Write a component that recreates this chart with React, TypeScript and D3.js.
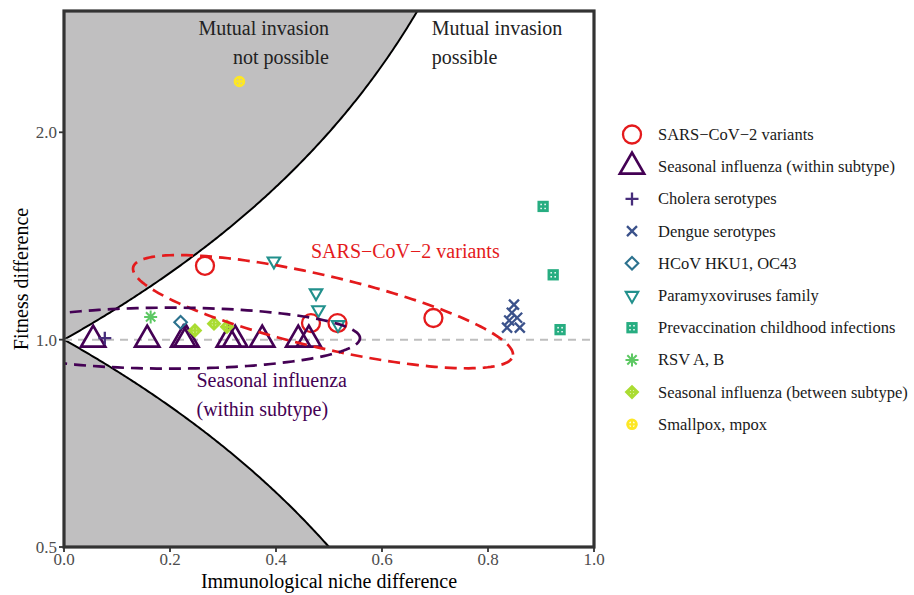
import React from "react";
import * as d3 from "d3";

const WIDTH = 914;
const HEIGHT = 595;
const PANEL = { left: 64, right: 594, top: 11, bottom: 547 };
const FONT = "'Liberation Serif', 'Times New Roman', serif";

// axis ticks
const xTicks = [0, 0.2, 0.4, 0.6, 0.8, 1.0];
const yTicks = [0.5, 1.0, 2.0];

// series: immunological niche difference (x) and fitness difference (y)
const sarsX = [0.266, 0.466, 0.516, 0.697];
const sarsY = [1.28, 1.057, 1.057, 1.075];

const fluWithinX = [0.055, 0.157, 0.225, 0.231, 0.311, 0.323, 0.374, 0.442, 0.462];
const fluWithinY = [1.0, 1.0, 1.0, 1.0, 1.0, 1.0, 1.0, 1.0, 1.0];

const choleraX = [0.077];
const choleraY = [1.005];

const dengueX = [0.849, 0.845, 0.855, 0.84, 0.836, 0.86];
const dengueY = [1.124, 1.094, 1.076, 1.066, 1.041, 1.041];

const hcovX = [0.22];
const hcovY = [1.06];

const paramyxoX = [0.396, 0.4755, 0.48, 0.517];
const paramyxoY = [1.3, 1.169, 1.105, 1.051];

const prevacX = [0.904, 0.923, 0.936];
const prevacY = [1.561, 1.242, 1.034];

const rsvX = [0.1635];
const rsvY = [1.079];

const fluBetweenX = [0.247, 0.283, 0.3075];
const fluBetweenY = [1.031, 1.055, 1.044];

const smallpoxX = [0.331];
const smallpoxY = [2.37];

const seriesNames = [
  "SARS\u2212CoV\u22122 variants",
  "Seasonal influenza (within subtype)",
  "Cholera serotypes",
  "Dengue serotypes",
  "HCoV HKU1, OC43",
  "Paramyxoviruses family",
  "Prevaccination childhood infections",
  "RSV A, B",
  "Seasonal influenza (between subtype)",
  "Smallpox, mpox",
];
const seriesShapes = [
  "circle",
  "triangleBig",
  "plus",
  "cross",
  "diamond",
  "triangleDown",
  "squarePlus",
  "asterisk",
  "diamondPlus",
  "circlePlus",
];
const seriesColors = [
  "#E41A1C",
  "#440154",
  "#472D7B",
  "#3B528B",
  "#2C728E",
  "#21908C",
  "#27AD81",
  "#5DC863",
  "#AADC32",
  "#FDE725",
];
const seriesXs = [sarsX, fluWithinX, choleraX, dengueX, hcovX, paramyxoX, prevacX, rsvX, fluBetweenX, smallpoxX];
const seriesYs = [sarsY, fluWithinY, choleraY, dengueY, hcovY, paramyxoY, prevacY, rsvY, fluBetweenY, smallpoxY];

// confidence ellipses: centre plus two conjugate semi-diameters in (niche, log2 fitness) units
const sarsEllipse = { cx: 0.4887, cy: 1.098, ax: 0.3585, aLog: -0.2067, bx: 0, bLog: 0.1783 };
const fluEllipse = { cx: 0.2, cy: 1.005, ax: 0.3585, aLog: 0, bx: 0, bLog: 0.147 };

const x = d3.scaleLinear().domain([0, 1]).range([PANEL.left, PANEL.right]);
const y = d3.scaleLog().domain([0.5, 3]).range([PANEL.bottom, PANEL.top]);

type Pt = [number, number];

function ellipsePath(e: typeof sarsEllipse): string {
  const pts: Pt[] = d3.range(0, 2 * Math.PI, Math.PI / 90).map((t) => {
    const nx = e.cx + e.ax * Math.cos(t) + e.bx * Math.sin(t);
    const ly = Math.log2(e.cy) + e.aLog * Math.cos(t) + e.bLog * Math.sin(t);
    return [x(nx), y(Math.pow(2, ly))];
  });
  return d3.line().curve(d3.curveLinearClosed)(pts) || "";
}

function Marker({ shape, color, cx, cy }: { shape: string; color: string; cx: number; cy: number }) {
  switch (shape) {
    case "circle":
      return <circle cx={cx} cy={cy} r={9} fill="none" stroke={color} strokeWidth={2.3} />;
    case "triangleBig": {
      const r = 14;
      const h = r * 0.866;
      return (
        <path
          d={`M${cx},${cy - r}L${cx + h},${cy + r / 2}L${cx - h},${cy + r / 2}Z`}
          fill="none"
          stroke={color}
          strokeWidth={2.7}
          strokeLinejoin="miter"
        />
      );
    }
    case "plus": {
      const s = 6.5;
      return (
        <path d={`M${cx - s},${cy}H${cx + s}M${cx},${cy - s}V${cy + s}`} stroke={color} strokeWidth={2.3} />
      );
    }
    case "cross": {
      const s = 5;
      return (
        <path
          d={`M${cx - s},${cy - s}L${cx + s},${cy + s}M${cx - s},${cy + s}L${cx + s},${cy - s}`}
          stroke={color}
          strokeWidth={2.3}
        />
      );
    }
    case "diamond": {
      const s = 6.3;
      return (
        <path
          d={`M${cx},${cy - s}L${cx + s},${cy}L${cx},${cy + s}L${cx - s},${cy}Z`}
          fill="none"
          stroke={color}
          strokeWidth={2.1}
        />
      );
    }
    case "triangleDown": {
      const r = 7.2;
      const h = r * 0.866;
      return (
        <path
          d={`M${cx},${cy + r}L${cx + h},${cy - r / 2}L${cx - h},${cy - r / 2}Z`}
          fill="none"
          stroke={color}
          strokeWidth={2.1}
        />
      );
    }
    case "squarePlus": {
      const s = 4.2;
      return (
        <g stroke={color} strokeWidth={2.9} fill="none">
          <rect x={cx - s} y={cy - s} width={2 * s} height={2 * s} />
          <path d={`M${cx - s},${cy}H${cx + s}M${cx},${cy - s}V${cy + s}`} strokeWidth={2.5} />
        </g>
      );
    }
    case "asterisk": {
      const s = 6.5;
      const d = s * 0.72;
      return (
        <path
          d={`M${cx - s},${cy}H${cx + s}M${cx},${cy - s}V${cy + s}M${cx - d},${cy - d}L${cx + d},${cy + d}M${cx - d},${cy + d}L${cx + d},${cy - d}`}
          stroke={color}
          strokeWidth={2}
        />
      );
    }
    case "diamondPlus": {
      const s = 5.4;
      return (
        <g stroke={color} strokeWidth={2.9} fill="none">
          <path d={`M${cx},${cy - s}L${cx + s},${cy}L${cx},${cy + s}L${cx - s},${cy}Z`} />
          <path d={`M${cx - s},${cy}H${cx + s}M${cx},${cy - s}V${cy + s}`} strokeWidth={2.3} />
        </g>
      );
    }
    case "circlePlus": {
      const r = 4.4;
      return (
        <g stroke={color} strokeWidth={2.8} fill="none">
          <circle cx={cx} cy={cy} r={r} />
          <path d={`M${cx - r},${cy}H${cx + r}M${cx},${cy - r}V${cy + r}`} strokeWidth={2.3} />
        </g>
      );
    }
    default:
      return null;
  }
}

export default function App() {
  const upperCurve: Pt[] = d3.range(0, 2 / 3 + 1e-9, 1 / 300).map((v) => [x(v), y(Math.min(3, 1 / (1 - v)))]);
  const lowerCurve: Pt[] = d3.range(0, 0.5 + 1e-9, 1 / 300).map((v) => [x(v), y(1 - v)]);
  const line = d3.line();

  const grayTop = line([...upperCurve, [x(0), y(3)]]) + "Z";
  const grayBottom = line([...lowerCurve, [x(0), y(0.5)]]) + "Z";

  const legendTop = 134.5;
  const legendStep = 32.2;

  return (
    <svg
      width={WIDTH}
      height={HEIGHT}
      style={{ position: "absolute", left: 0, top: 0, background: "#fff" }}
      fontFamily={FONT}
    >
      <defs>
        <clipPath id="panel-clip">
          <rect x={PANEL.left} y={PANEL.top} width={PANEL.right - PANEL.left} height={PANEL.bottom - PANEL.top} />
        </clipPath>
      </defs>

      {/* invasion regions */}
      <path d={grayTop} fill="#C0BFC0" />
      <path d={grayBottom} fill="#C0BFC0" />
      <path d={line(upperCurve) || ""} fill="none" stroke="#000" strokeWidth={2} />
      <path d={line(lowerCurve) || ""} fill="none" stroke="#000" strokeWidth={2} />

      {/* equal fitness reference */}
      <line
        x1={x(0)}
        x2={x(1)}
        y1={y(1)}
        y2={y(1)}
        stroke="#BEBEBE"
        strokeWidth={2}
        strokeDasharray="8 6"
      />

      {/* annotations */}
      <g fontSize={20} fill="#222">
        <text x={x(0.5)} y={y(2.767)} textAnchor="end">Mutual invasion</text>
        <text x={x(0.5)} y={y(2.767) + 28.7} textAnchor="end">not possible</text>
        <text x={x(0.694)} y={y(2.767)}>Mutual invasion</text>
        <text x={x(0.694)} y={y(2.767) + 28.7}>possible</text>
      </g>

      {/* points */}
      <g>
        {seriesXs.map((xs, i) =>
          xs.map((v, j) => (
            <Marker key={`${i}-${j}`} shape={seriesShapes[i]} color={seriesColors[i]} cx={x(v)} cy={y(seriesYs[i][j])} />
          ))
        )}
      </g>

      {/* ellipses */}
      <g clipPath="url(#panel-clip)" fill="none" strokeWidth={2.7}>
        <path d={ellipsePath(sarsEllipse)} stroke="#E41A1C" strokeDasharray="12 7" />
        <path d={ellipsePath(fluEllipse)} stroke="#440154" strokeDasharray="12 7" />
      </g>

      <g fontSize={20}>
        <text x={x(0.466)} y={y(1.315)} fill="#E41A1C">SARS{"\u2212"}CoV{"\u2212"}2 variants</text>
        <text x={x(0.25)} y={y(0.855)} fill="#440154">Seasonal influenza</text>
        <text x={x(0.25)} y={y(0.855) + 29} fill="#440154">(within subtype)</text>
      </g>

      {/* frame */}
      <rect
        x={PANEL.left}
        y={PANEL.top}
        width={PANEL.right - PANEL.left}
        height={PANEL.bottom - PANEL.top}
        fill="none"
        stroke="#333"
        strokeWidth={3.2}
      />

      {/* x axis */}
      <g>
        {xTicks.map((t) => (
          <g key={t}>
            <line x1={x(t)} x2={x(t)} y1={PANEL.bottom} y2={PANEL.bottom + 5} stroke="#333" strokeWidth={1.8} />
            <text x={x(t)} y={565} textAnchor="middle" fontSize={17} fill="#4D4D4D">
              {d3.format(".1f")(t)}
            </text>
          </g>
        ))}
        <text x={(PANEL.left + PANEL.right) / 2} y={588} textAnchor="middle" fontSize={20} fill="#000">
          Immunological niche difference
        </text>
      </g>

      {/* y axis */}
      <g>
        {yTicks.map((t) => (
          <g key={t}>
            <line x1={PANEL.left - 5} x2={PANEL.left} y1={y(t)} y2={y(t)} stroke="#333" strokeWidth={1.8} />
            <text x={57} y={y(t) + 6} textAnchor="end" fontSize={17} fill="#4D4D4D">
              {d3.format(".1f")(t)}
            </text>
          </g>
        ))}
        <text
          transform={`translate(28,${(PANEL.top + PANEL.bottom) / 2}) rotate(-90)`}
          textAnchor="middle"
          fontSize={20}
          fill="#000"
        >
          Fitness difference
        </text>
      </g>

      {/* legend */}
      <g>
        {seriesNames.map((name, i) => {
          const cy = legendTop + i * legendStep;
          return (
            <g key={name}>
              <Marker shape={seriesShapes[i]} color={seriesColors[i]} cx={632} cy={cy} />
              <text x={658} y={cy + 5.5} fontSize={16.5} fill="#1a1a1a">
                {name}
              </text>
            </g>
          );
        })}
      </g>
    </svg>
  );
}
